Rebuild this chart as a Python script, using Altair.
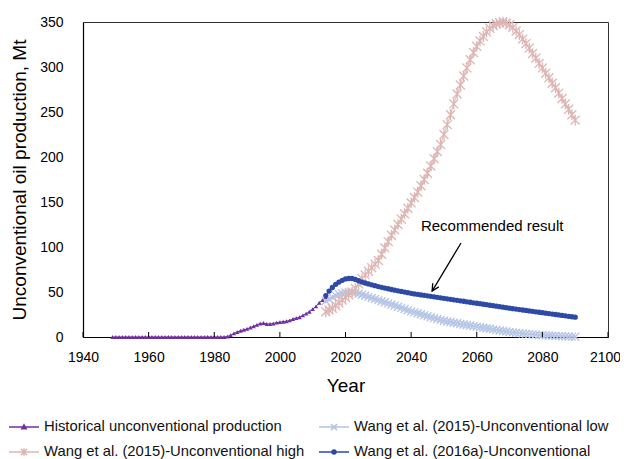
import altair as alt
import pandas as pd

SERIES = [
    "Historical unconventional production",
    "Wang et al. (2015)-Unconventional low",
    "Wang et al. (2015)-Unconventional high",
    "Wang et al. (2016a)-Unconventional",
]
COLORS = ["#7030A0", "#B4C4E4", "#DDB6B4", "#2E4AA6"]

X_TICKS = [1940, 1960, 1980, 2000, 2020, 2040, 2060, 2080, 2100]
Y_TICKS = [0, 50, 100, 150, 200, 250, 300, 350]

hist_years = list(range(1949, 2015))
hist_vals = [
    0, 0, 0, 0, 0, 0, 0, 0, 0, 0,
    0, 0, 0, 0, 0, 0, 0, 0, 0, 0,
    0, 0, 0, 0, 0, 0, 0, 0, 0, 0,
    0, 0, 0, 0, 0,
    0.5, 2, 4, 5.5, 7, 8, 9, 10.5, 12, 13.5,
    15, 15.5, 14.5, 14.5, 15, 16, 16.5, 17, 17.5, 18.5,
    20, 21, 22, 24, 26, 28, 31, 34, 38, 41,
    44,
]

proj_years = list(range(2014, 2091))
low_vals = [
    40, 42, 44, 46, 47.5, 48.5, 49.5, 50, 50, 49,
    48, 47, 45.8, 44.6, 43.4, 42.2, 41, 39.8, 38.6, 37.4,
    36.2, 35, 33.7, 32.4, 31.1, 29.8, 28.5, 27.4, 26.3, 25.2,
    24.1, 23, 22, 21, 20, 19, 18, 17.3, 16.6, 15.9,
    15.2, 14.5, 13.9, 13.3, 12.7, 12.1, 11.5, 10.9, 10.3, 9.7,
    9.1, 8.5, 7.9, 7.3, 6.7, 6.1, 5.5, 5.1, 4.7, 4.3,
    3.9, 3.5, 3.2, 2.9, 2.6, 2.3, 2, 1.8, 1.6, 1.4,
    1.2, 1, 0.85, 0.7, 0.55, 0.4, 0.3,
]
high_vals = [
    28, 30, 32, 35, 38, 41, 44, 47, 50, 54,
    59, 65, 69, 73, 77, 81, 85, 92, 99, 106,
    113, 119, 125, 131, 137, 143, 149, 155, 161, 168,
    175, 182, 190, 198, 206, 214, 225, 236, 247, 259,
    270, 280, 290, 299, 308, 316, 323, 329, 334, 339,
    343, 346, 348, 349, 350, 349, 347, 344, 340, 336,
    331, 326, 321, 315, 310, 304, 299, 293, 288, 282,
    277, 271, 265, 259, 253, 247, 241,
]
w2016_vals = [
    46, 51, 55, 58.5, 61, 63, 64.5, 65, 65, 64,
    62.5, 61, 60, 59, 58, 57, 56, 55.2, 54.4, 53.6,
    52.8, 52, 51.3, 50.6, 49.9, 49.2, 48.5, 47.9, 47.4, 46.8,
    46.3, 45.7, 45.2, 44.6, 44.1, 43.5, 43, 42.4, 41.9, 41.3,
    40.8, 40.2, 39.7, 39.1, 38.6, 38, 37.5, 37, 36.4, 35.9,
    35.3, 34.8, 34.2, 33.7, 33.1, 32.6, 32, 31.5, 31, 30.5,
    30, 29.5, 29, 28.5, 28, 27.5, 27, 26.5, 26, 25.5,
    25, 24.5, 24, 23.5, 23, 22.5, 22,
]

ANN_LABEL = ["Recommended result"]
ANN_TEXT_POS = [2064.7, 123]
ANN_ARROW = [2055.2, 104.4, 2046.4, 51]

rows = []
for yr, v in zip(hist_years, hist_vals):
    rows.append({"year": yr, "value": v, "series": SERIES[0]})
for vals, name in [(low_vals, SERIES[1]), (high_vals, SERIES[2]), (w2016_vals, SERIES[3])]:
    for yr, v in zip(proj_years, vals):
        rows.append({"year": yr, "value": v, "series": name})
df = pd.DataFrame(rows)

FONT = "Liberation Sans"

x_enc = alt.X(
    "year:Q",
    scale=alt.Scale(domain=[1940, 2100], nice=False, zero=False),
    axis=alt.Axis(values=X_TICKS, format="d", title="Year", grid=False, tickSize=0,
                  labelFlush=False, labelPadding=13, titlePadding=12,
                  labelOffset=alt.condition("datum.value == 2100", alt.value(-3), alt.value(0)),
                  labelFontSize=14, titleFontSize=19),
)
y_enc = alt.Y(
    "value:Q",
    scale=alt.Scale(domain=[0, 350], nice=False),
    axis=alt.Axis(values=Y_TICKS, title="Unconventional oil production, Mt", grid=False,
                  tickSize=0, labelFlush=False, labelPadding=20, titlePadding=10,
                  labelFontSize=14, titleFontSize=19),
)

base = alt.Chart(df)

X_PATH = "M-1,-1L1,1M-1,1L1,-1"
STAR_PATH = "M-1,-1L1,1M-1,1L1,-1M0,-1.2L0,1.2"

layers = []
# historical
s0 = base.transform_filter(alt.datum.series == SERIES[0])
layers.append(s0.mark_line(color=COLORS[0], strokeWidth=1).encode(x=x_enc, y=y_enc))
layers.append(s0.mark_point(color=COLORS[0], shape="triangle-up", size=20, filled=True, opacity=1).encode(x=x_enc, y=y_enc))
# low
s1 = base.transform_filter(alt.datum.series == SERIES[1])
layers.append(s1.mark_line(color=COLORS[1], strokeWidth=1).encode(x=x_enc, y=y_enc))
layers.append(s1.mark_point(color=COLORS[1], shape=X_PATH, size=64, filled=False, strokeWidth=1.3, opacity=1).encode(x=x_enc, y=y_enc))
# high
s2 = base.transform_filter(alt.datum.series == SERIES[2])
layers.append(s2.mark_line(color=COLORS[2], strokeWidth=1, clip=False).encode(x=x_enc, y=y_enc))
layers.append(s2.mark_point(color=COLORS[2], shape=STAR_PATH, size=80, filled=False, strokeWidth=1.3, opacity=1, clip=False).encode(x=x_enc, y=y_enc))
# 2016a
s3 = base.transform_filter(alt.datum.series == SERIES[3])
layers.append(s3.mark_line(color=COLORS[3], strokeWidth=1).encode(x=x_enc, y=y_enc))
layers.append(s3.mark_point(color=COLORS[3], shape="circle", size=28, filled=True, opacity=1).encode(x=x_enc, y=y_enc))

# inward ticks on x axis
ticks = alt.Chart(pd.DataFrame({"year": X_TICKS})).mark_rule(color="black", strokeWidth=1).encode(
    x=alt.X("year:Q"), y=alt.value(315), y2=alt.value(310)
)
layers.append(ticks)

# annotation
ann_df = pd.DataFrame({"year": [ANN_TEXT_POS[0]], "value": [ANN_TEXT_POS[1]], "label": ANN_LABEL})
layers.append(alt.Chart(ann_df).mark_text(font=FONT, fontSize=15, color="black").encode(
    x=alt.X("year:Q"), y=alt.Y("value:Q"), text="label:N"))
arrow_df = pd.DataFrame({"year": [ANN_ARROW[0]], "value": [ANN_ARROW[1]],
                         "year2": [ANN_ARROW[2]], "value2": [ANN_ARROW[3]]})
layers.append(alt.Chart(arrow_df).mark_rule(color="black", strokeWidth=1.3).encode(
    x=alt.X("year:Q"), y=alt.Y("value:Q"), x2="year2:Q", y2="value2:Q"))
head_df = pd.DataFrame({"year": [ANN_ARROW[2]], "value": [ANN_ARROW[3]]})
layers.append(alt.Chart(head_df).mark_point(shape="M-0.5,1L0,0L0.5,1", angle=211, size=200,
                                            filled=False, color="black", strokeWidth=1.3, opacity=1).encode(
    x=alt.X("year:Q"), y=alt.Y("value:Q")))

# legend-only layer
LEG_PATHS = [
    "M-1.5,0H1.5M-0.22,0.17L0,-0.22L0.22,0.17ZM-0.1,0.08L0,-0.1L0.1,0.08Z",
    "M-1.5,0H1.5M-0.3,-0.3L0.3,0.3M-0.3,0.3L0.3,-0.3",
    "M-1.5,0H1.5M-0.3,-0.3L0.3,0.3M-0.3,0.3L0.3,-0.3M0,-0.38V0.38",
    "M-1.5,0H1.5M-0.2,0A0.2,0.2 0 1,1 0.2,0A0.2,0.2 0 1,1 -0.2,0ZM-0.08,0A0.08,0.08 0 1,1 0.08,0A0.08,0.08 0 1,1 -0.08,0Z",
]
leg = alt.Legend(
    title=None, orient="none", legendX=-70, legendY=394, columns=2, direction="horizontal",
    symbolSize=400, symbolStrokeWidth=1.5, labelFont=FONT, labelFontSize=14.8, labelColor="#111",
    labelOffset=9, columnPadding=11, rowPadding=7, labelLimit=400, symbolOpacity=1,
)
legend_layer = base.transform_filter("false").mark_point(filled=False, strokeWidth=1.5, size=400, opacity=1).encode(
    x=x_enc, y=y_enc,
    color=alt.Color("series:N", scale=alt.Scale(domain=SERIES, range=COLORS), legend=leg),
    shape=alt.Shape("series:N", scale=alt.Scale(domain=SERIES, range=LEG_PATHS), legend=leg),
)
layers.append(legend_layer)

chart = alt.layer(*layers).properties(
    width=525, height=315,
    padding={"left": 75, "top": 14, "right": 12, "bottom": 124},
    autosize=alt.AutoSizeParams(type="none"),
    background="white",
).configure_view(stroke="#333333", strokeWidth=1).configure_axis(
    labelFont=FONT, titleFont=FONT, labelColor="black", titleColor="black",
    domainColor="black", domainWidth=1.2, titleFontWeight="normal",
)

chart.save("out.html", embed_options={"renderer": "svg", "actions": False})
